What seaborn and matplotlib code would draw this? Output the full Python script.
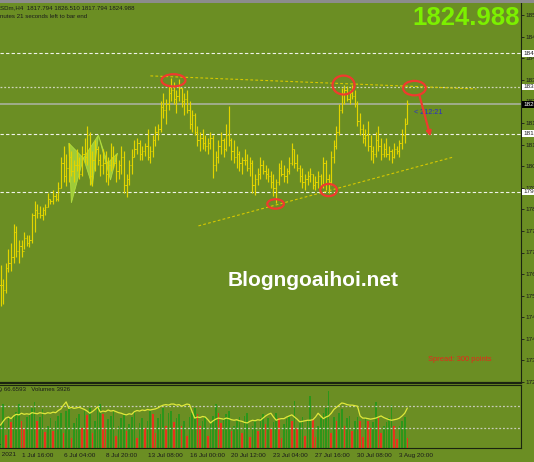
import numpy as np
import matplotlib
matplotlib.use("Agg")
import matplotlib.pyplot as plt
from matplotlib.patches import Ellipse, Polygon
import seaborn as sns

# ---------------- data (XAUUSDm, H4) ----------------
high = [1767, 1762, 1768, 1773, 1775, 1782, 1781, 1776, 1776, 1779,
        1778, 1778, 1786, 1790, 1789, 1788.5, 1788, 1789, 1793, 1791,
        1794, 1793, 1797, 1806, 1810, 1807, 1811, 1808, 1805, 1809,
        1806, 1810, 1813, 1817, 1815, 1808, 1812, 1810, 1807, 1809,
        1808, 1806, 1811, 1810, 1807, 1805, 1810, 1808, 1800, 1805,
        1809, 1812, 1813, 1812, 1810, 1811, 1816, 1810, 1814, 1817,
        1818, 1826, 1829, 1827, 1832, 1834.4, 1833, 1830, 1834, 1831,
        1829, 1830, 1826, 1823, 1822, 1817, 1815, 1816, 1814, 1813,
        1815, 1814, 1808, 1812, 1815, 1813, 1818, 1824.5, 1813, 1812,
        1810, 1808, 1806, 1809, 1807, 1806, 1805, 1800, 1802, 1806,
        1805, 1803, 1802, 1801, 1800, 1798, 1804, 1805, 1803, 1802,
        1806, 1811, 1809, 1807, 1803, 1802, 1800, 1801, 1802, 1800,
        1799, 1801, 1800, 1806, 1805, 1800, 1808, 1812, 1817, 1825,
        1831, 1832, 1831.5, 1830, 1832, 1830, 1826, 1822, 1818, 1816,
        1819, 1814, 1810, 1815, 1817, 1813, 1811, 1813, 1810, 1809,
        1811, 1810, 1812, 1816, 1820, 1826.51]
low = [1752.5, 1753, 1757, 1764.5, 1765, 1768, 1770, 1768, 1770, 1773,
       1774, 1773.5, 1775, 1779, 1784, 1784, 1783.5, 1785, 1788, 1789,
       1789, 1790, 1790, 1795, 1797, 1795.5, 1797, 1799, 1797, 1801,
       1798, 1799, 1804, 1803, 1796, 1795.5, 1801, 1803, 1799, 1800,
       1797, 1796, 1801, 1802, 1797, 1798, 1800, 1793, 1791.5, 1796,
       1800, 1806, 1807, 1805, 1805, 1806.5, 1805, 1804, 1806, 1810,
       1812, 1815, 1820, 1818, 1823, 1826, 1825, 1822, 1826, 1824,
       1821, 1822, 1816, 1815, 1814, 1810, 1808, 1809, 1808, 1807,
       1809, 1798.5, 1801, 1804, 1807, 1806, 1808, 1810, 1805, 1804,
       1802, 1801, 1800, 1803, 1801, 1799, 1793, 1792.5, 1796, 1798,
       1800, 1798, 1797, 1795, 1792, 1789.4, 1796, 1799, 1797, 1796.5,
       1800, 1803, 1802, 1801, 1797, 1795, 1794, 1796, 1797, 1794.5,
       1794, 1795, 1795, 1795, 1794, 1793, 1796, 1804, 1809, 1814,
       1822, 1825, 1826, 1825, 1827, 1824, 1817, 1814, 1811, 1810,
       1808, 1805, 1804, 1806, 1808, 1805, 1806, 1806, 1805, 1804,
       1805.5, 1807, 1806, 1809, 1811, 1817.794]
close = [1760, 1758, 1766, 1768, 1770, 1779, 1772, 1774, 1772, 1777,
         1775, 1776, 1785, 1787, 1786, 1785, 1787, 1788, 1791, 1790,
         1792, 1791, 1795, 1804, 1799, 1802, 1806, 1801, 1803, 1803,
         1800, 1807, 1806, 1814, 1799, 1805, 1809, 1805, 1803, 1804,
         1800, 1803, 1806, 1804, 1801, 1803, 1806, 1796, 1798, 1803,
         1806, 1809, 1811, 1807, 1808, 1810, 1806, 1808, 1812, 1815,
         1816, 1824, 1823, 1825, 1829, 1830, 1827, 1828, 1831, 1826,
         1827, 1823, 1818, 1821, 1815, 1812, 1813, 1811, 1810, 1811,
         1813, 1803, 1806, 1810, 1812, 1809, 1814, 1812, 1808, 1806,
         1807, 1804, 1805, 1805, 1802, 1804, 1796, 1798, 1800, 1803,
         1801, 1800, 1799, 1797, 1795, 1797, 1802, 1800, 1799, 1801,
         1804, 1809, 1804, 1802, 1799, 1797, 1798, 1799, 1800, 1796,
         1797, 1799, 1796, 1804, 1798, 1797, 1806, 1810, 1815, 1823,
         1829, 1830, 1827, 1829, 1828, 1825, 1819, 1816, 1813, 1814,
         1810, 1808, 1807, 1812, 1810, 1807, 1809, 1807, 1808, 1806,
         1809, 1808, 1811, 1814, 1817.794, 1824.988]
volume = [9000, 17600, 5200, 12000, 10500, 13000, 14500, 17600, 10800, 8000,
          12500, 13500, 16000, 18400, 10800, 12500, 15600, 6400, 9000, 12000,
          7000, 11000, 13000, 14000, 6200, 15000, 16500, 4200, 10000, 12000,
          13500, 8000, 15000, 13200, 16000, 6000, 11000, 16000, 17600, 13600,
          8000, 11500, 13000, 15000, 5000, 9000, 12000, 13500, 7000, 9500,
          12500, 14800, 4000, 10000, 12000, 8000, 11000, 15000, 13500, 6000,
          12000, 13500, 16000, 9000, 14000, 15000, 10500, 12000, 13500, 9000,
          11000, 5000, 12500, 14000, 16000, 13500, 9000, 11000, 12500, 5000,
          10000, 13000, 17600, 14000, 10000, 12000, 13500, 15000, 7000, 9000,
          11000, 12500, 6000, 13000, 14000, 4500, 9000, 11000, 7000, 12000,
          13500, 9500, 12000, 7500, 10500, 14000, 12000, 4000, 9500, 11500,
          13000, 11000, 18800, 8000, 11000, 12500, 5000, 11000, 20800, 11500,
          4500, 9000, 12000, 14000, 16000, 22800, 6000, 12500, 11000, 14000,
          15500, 9000, 12000, 13000, 7000, 11000, 12500, 11000, 4500, 12000,
          11000, 8000, 10500, 18400, 12000, 6000, 9000, 10500, 12000, 17200,
          9000, 3500, 9000, 11000, 12500, 3926]
osc = [35, 42, 48, 50, 47, 52, 55, 54, 57, 55,
       56, 55, 58, 57, 56, 58, 57, 56, 58, 57,
       59, 58, 62, 65, 72, 78, 66, 68, 66, 67,
       68, 66, 64, 61, 57, 60, 64, 69, 59, 61,
       60, 63, 61, 62, 60, 58, 57, 55, 54, 56,
       55, 60, 62, 61, 63, 62, 64, 63, 64, 65,
       67, 70, 72, 73, 72, 74, 74, 72, 73, 70,
       72, 74, 73, 60, 48, 50, 49, 51, 50, 45,
       39, 43, 46, 48, 47, 46, 48, 47, 45, 44,
       45, 43, 42, 40, 39, 42, 44, 43, 45, 44,
       48, 52, 55, 57, 50, 44, 46, 47, 47, 50,
       52, 54, 50, 46, 41, 42, 43, 44, 44, 45,
       50, 57, 52, 47, 50, 52, 57, 64, 68, 72,
       76, 75, 73, 72, 72, 71, 70, 52, 48, 48,
       47, 46, 47, 48, 50, 52, 49, 47, 45, 44,
       45, 46, 48, 52, 57, 66.6593]

date_ticks = [-8, 8, 24, 40, 56, 72, 88, 104, 120, 136, 152]
date_labels = ["29 Jun 2021", "1 Jul 16:00", "6 Jul 04:00", "8 Jul 20:00",
               "13 Jul 08:00", "16 Jul 00:00", "20 Jul 12:00", "23 Jul 04:00",
               "27 Jul 16:00", "30 Jul 08:00", "3 Aug 20:00"]
level_lines = [1843.4, 1814.3, 1793.4]
level_dotted = 1831.2
last_price = 1824.988

# chart objects (bar index, price)
circles = [(65.9, 1833.6, 9.1, 4.4), (130.7, 1831.9, 8.4, 6.8), (157.7, 1830.8, 8.6, 5.2),
           (104.8, 1789.1, 6.3, 3.4), (125.0, 1794.1, 6.3, 4.4)]
resistance = ([57.1, 181.3], [1835.2, 1830.5])
support = ([75.4, 172.6], [1781.2, 1806.0])
pattern_a = [(26.0, 1811.0), (31.6, 1805.6), (27.0, 1789.5)]
pattern_b = [(31.6, 1805.6), (37.3, 1813.9), (35.0, 1795.5)]
pattern_c = [(37.3, 1813.9), (40.8, 1803.8), (44.6, 1807.4), (41.9, 1797.7)]

# ---------------- style ----------------
bg = "#6B8E23"
sns.set_style("dark", {"axes.facecolor": bg, "figure.facecolor": bg})
plt.rcParams["font.family"] = ["Liberation Sans", "DejaVu Sans"]

idx = np.arange(len(close))
opens = [close[0]] + close[:-1]

fig = plt.figure(figsize=(5.34, 4.62), dpi=100)
ax = fig.add_axes([0, 1 - 383 / 462, 521 / 534, 380 / 462])
ax2 = fig.add_axes([0, 1 - 448 / 462, 521 / 534, 63 / 462])

for a in (ax, ax2):
    a.set_facecolor(bg)
    a.set_xlim(-0.2, 198.3)
    for s in ("left", "top"):
        a.spines[s].set_visible(False)
    a.spines["right"].set_color("#1b2410")
    a.spines["bottom"].set_color("#1b2410")
    a.yaxis.tick_right()
    a.tick_params(axis="y", colors="#1b1b1b", labelsize=4.6, length=2, width=0.6, pad=1.5)
    a.grid(False)
ax.spines["bottom"].set_linewidth(1.6)
ax2.spines["top"].set_visible(True)
ax2.spines["top"].set_color("#1b2410")

# ---------------- price panel ----------------
ax.set_ylim(1724.64, 1861.44)
yt = [1725 + 7.77 * k for k in range(18)]
ax.set_yticks(yt)
ax.set_yticklabels([f"{v:.2f}" for v in yt])
ax.set_xticks([])

for y in level_lines:
    ax.axhline(y, color="white", lw=0.8, ls=(0, (3, 2)), alpha=0.9)
ax.axhline(level_dotted, color="#d8dcc8", lw=0.9, ls=(0, (1.5, 1.5)), alpha=0.9)
ax.axhline(last_price, color="#aab2a0", lw=1.3, alpha=0.9)

for poly in (pattern_a, pattern_b, pattern_c):
    ax.add_patch(Polygon(poly, closed=True, facecolor="#a4d23c", edgecolor="#b4e040",
                         lw=0.6, alpha=0.9, zorder=2))

ax.vlines(idx, low, high, color="#e3d400", lw=0.85, zorder=3)
ax.hlines(opens, idx - 0.45, idx, color="#e3d400", lw=0.7, zorder=3)
ax.hlines(close, idx, idx + 0.45, color="#e3d400", lw=0.7, zorder=3)

ax.plot(*resistance, color="#d6c800", lw=0.8, ls=(0, (2.5, 2)), zorder=4)
ax.plot(*support, color="#d6c800", lw=0.8, ls=(0, (2.5, 2)), zorder=4)

for cx, cy, w, h in circles:
    ax.add_patch(Ellipse((cx, cy), w, h, fill=False, edgecolor="#f03a2e", lw=1.6, zorder=5))
ax.annotate("", xy=(163.8, 1813.4), xytext=(159.6, 1828.2),
            arrowprops=dict(arrowstyle="-|>", color="#f03a2e", lw=1.6,
                            mutation_scale=7, shrinkA=0, shrinkB=0), zorder=5)

ax.text(157.5, 1822.2, "< 212:21", color="#2a2ad0", fontsize=5.2, va="center", ha="left")
ax.text(163, 1733.2, "Spread: 300 points", color="#e8261a", fontsize=5.4, va="center")
ax.text(119, 1761.5, "Blogngoaihoi.net", color="white", fontsize=15, fontweight="bold",
        ha="center", va="center")

# boxed price labels on the right scale
tr = ax.get_yaxis_transform()
for y in level_lines + [level_dotted]:
    ax.text(1.004, y, f"{y:.2f}", transform=tr, fontsize=4.6, color="#222222", va="center",
            ha="left", bbox=dict(boxstyle="square,pad=0.15", fc="white", ec="none"), clip_on=False)
ax.text(1.004, last_price, f"{last_price:.3f}", transform=tr, fontsize=4.6, color="white",
        va="center", ha="left", bbox=dict(boxstyle="square,pad=0.15", fc="black", ec="none"),
        clip_on=False)

# ---------------- volumes + oscillator panel ----------------
ax2.set_ylim(-7.4, 109.3)
ax2.set_yticks([0, 30, 70, 100])
ax2.set_yticklabels(["0", "30", "70", "100"])
ax2.axhline(70, color="#c8ccb8", lw=0.9, ls=(0, (1.5, 1.5)))
ax2.axhline(30, color="#c8ccb8", lw=0.9, ls=(0, (1.5, 1.5)))

vcol = ["#2c961a"] + ["#2c961a" if volume[i] > volume[i - 1] else "#e8341c"
                       for i in range(1, len(volume))]
ax3 = ax2.twinx()
ax3.set_ylim(0, 25200)
ax3.bar(idx, volume, width=0.6, color=vcol, linewidth=0)
ax3.set_yticks([])
for s in ax3.spines.values():
    s.set_visible(False)
ax2.set_zorder(ax3.get_zorder() + 1)
ax2.patch.set_visible(False)
ax3.patch.set_facecolor(bg)

sns.lineplot(x=idx, y=osc, ax=ax2, color="#e0e83a", lw=0.9)
ax2.set_xlim(-0.2, 198.3)
ax3.set_xlim(-0.2, 198.3)

ax2.set_xticks(date_ticks[1:])
ax2.set_xticklabels(date_labels[1:])
ax2.tick_params(axis="x", colors="#1b1b1b", labelsize=4.6, length=2.5, width=0.6, pad=1)
for lab in ax2.get_xticklabels():
    lab.set_ha("left")
ax2.text(date_ticks[0] + 0.4, -0.07, date_labels[0], transform=ax2.get_xaxis_transform(),
         fontsize=4.6, color="#1b1b1b", ha="left", va="top", clip_on=False)
ax2.text(0.0, 0.97, ") 66.6593   Volumes 3926", transform=ax2.transAxes,
         fontsize=4.4, color="#1b1b1b", va="top")

# ---------------- header texts ----------------
fig.patches.append(plt.Rectangle((0, 1 - 2.5 / 462), 1, 2.5 / 462, transform=fig.transFigure,
                                 fc="#8c8c8c", ec="none"))
fig.text(0.0, 1 - 7.5 / 462, "SDm,H4  1817.794 1826.510 1817.794 1824.988",
         fontsize=4.4, color="#1b1b1b", va="center")
fig.text(0.0, 1 - 16.5 / 462, "nutes 21 seconds left to bar end",
         fontsize=4.4, color="#1b1b1b", va="center")
fig.text(520 / 534, 1 - 18 / 462, "1824.988", fontsize=18.5, fontweight="bold",
         color="#7cf000", ha="right", va="center")

fig.savefig("out.png", dpi=100, facecolor=bg)
